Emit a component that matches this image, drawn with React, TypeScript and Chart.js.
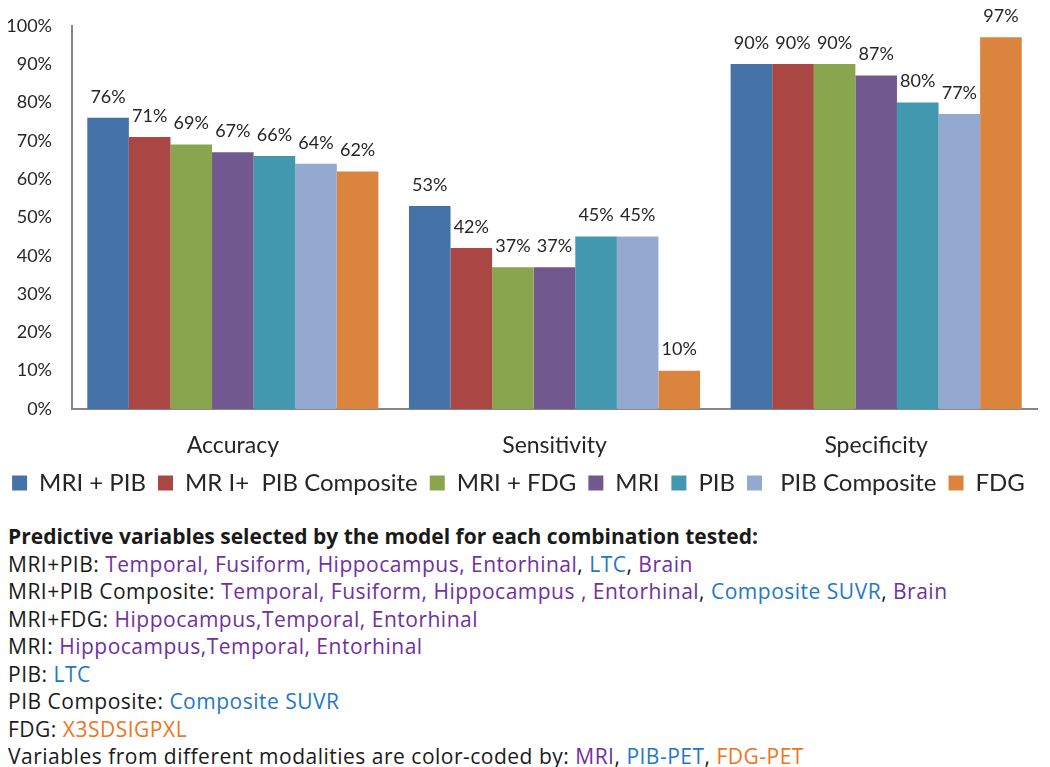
import React, { useEffect, useRef } from "react";
import { Chart, registerables } from "chart.js";

Chart.register(...registerables);

const categories = ["Accuracy", "Sensitivity", "Specificity"];
const seriesNames = ["MRI + PIB", "MR I+  PIB Composite", "MRI + FDG", "MRI", "PIB", " PIB Composite", "FDG"];
const seriesColors = ["#4572A7", "#AA4643", "#89A54E", "#71588F", "#4198AF", "#93A9CF", "#DB843D"];
const mriPib = [76, 53, 90];
const mriPibComposite = [71, 42, 90];
const mriFdg = [69, 37, 90];
const mri = [67, 37, 87];
const pib = [66, 45, 80];
const pibComposite = [64, 45, 77];
const fdg = [62, 10, 97];
const seriesValues = [mriPib, mriPibComposite, mriFdg, mri, pib, pibComposite, fdg];
const yTicks = [0, 10, 20, 30, 40, 50, 60, 70, 80, 90, 100];

const FONT = "Lato, 'Open Sans', sans-serif";
const TEXT_FONT = "'Open Sans', Lato, sans-serif";
const PURPLE = "#7030A0";
const BLUE = "#1F78C8";
const ORANGE = "#F07422";

const valueLabels = {
  id: "valueLabels",
  afterDatasetsDraw(chart: any) {
    const ctx = chart.ctx;
    ctx.save();
    ctx.font = `18px ${FONT}`;
    ctx.fillStyle = "#262626";
    ctx.textAlign = "center";
    ctx.textBaseline = "bottom";
    chart.data.datasets.forEach((ds: any, i: number) => {
      const meta = chart.getDatasetMeta(i);
      meta.data.forEach((bar: any, j: number) => {
        ctx.fillText(ds.data[j] + "%", bar.x, bar.y - 12);
      });
    });
    ctx.restore();
  },
};

type Seg = [string, string?];
const lines: Seg[][] = [
  [["MRI+PIB: "], ["Temporal, Fusiform, Hippocampus, Entorhinal", PURPLE], [", "], ["LTC", BLUE], [", "], ["Brain", PURPLE]],
  [["MRI+PIB Composite: "], ["Temporal, Fusiform, Hippocampus , Entorhinal", PURPLE], [", "], ["Composite SUVR", BLUE], [", "], ["Brain", PURPLE]],
  [["MRI+FDG: "], ["Hippocampus,Temporal, Entorhinal", PURPLE]],
  [["MRI: "], ["Hippocampus,Temporal, Entorhinal", PURPLE]],
  [["PIB: "], ["LTC", BLUE]],
  [["PIB Composite: "], ["Composite SUVR", BLUE]],
  [["FDG: "], ["X3SDSIGPXL", ORANGE]],
  [["Variables from different modalities are color-coded by: "], ["MRI", PURPLE], [", "], ["PIB-PET", BLUE], [", "], ["FDG-PET", ORANGE]],
];

export default function App() {
  const ref = useRef<HTMLCanvasElement>(null);
  useEffect(() => {
    const chart = new Chart(ref.current as HTMLCanvasElement, {
      type: "bar",
      data: {
        labels: categories,
        datasets: seriesNames.map((name, i) => ({
          label: name,
          data: seriesValues[i],
          backgroundColor: seriesColors[i],
          borderWidth: 0,
          categoryPercentage: 0.905,
          barPercentage: 1,
        })),
      },
      options: {
        animation: false,
        responsive: false,
        layout: { padding: { top: 15, right: 13, left: 0, bottom: 0 } },
        plugins: {
          tooltip: { enabled: false },
          legend: {
            position: "bottom",
            labels: {
              boxWidth: 15,
              boxHeight: 15,
              padding: 12,
              color: "#262626",
              font: { family: FONT, size: 24 },
            },
          },
        },
        scales: {
          y: {
            min: 0,
            max: 100,
            afterFit: (s: any) => { s.width = 72; },
            afterBuildTicks: (s: any) => { s.ticks = yTicks.map((v) => ({ value: v })); },
            grid: { display: false, drawTicks: false },
            border: { display: true, color: "#868686", width: 2 },
            ticks: {
              padding: 20,
              color: "#262626",
              font: { family: FONT, size: 18 },
              callback: (v: any) => v + "%",
            },
          },
          x: {
            afterFit: (s: any) => { s.height = 50; },
            grid: { display: false, drawTicks: false },
            border: { display: true, color: "#868686", width: 2 },
            ticks: {
              padding: 23,
              color: "#262626",
              font: { family: FONT, size: 23 },
            },
          },
        },
      },
      plugins: [valueLabels],
    } as any);
    return () => chart.destroy();
  }, []);

  return (
    <div style={{ margin: "-13px 0 0 -8px", width: 1050, background: "#fff" }}>
      <canvas ref={ref} width={1050} height={510} style={{ display: "block" }} />
      <div
        style={{
          fontFamily: TEXT_FONT,
          fontSize: 21,
          lineHeight: "27.5px",
          color: "#1a1a1a",
          paddingLeft: 8,
          marginTop: 18,
          whiteSpace: "nowrap",
        }}
      >
        <div style={{ fontWeight: "bold" }}>Predictive variables selected by the model for each combination tested:</div>
        {lines.map((segs, i) => (
          <div key={i} style={{ letterSpacing: "0.5px" }}>
            {segs.map(([t, c], k) => (
              <span key={k} style={c ? { color: c } : undefined}>{t}</span>
            ))}
          </div>
        ))}
      </div>
    </div>
  );
}
